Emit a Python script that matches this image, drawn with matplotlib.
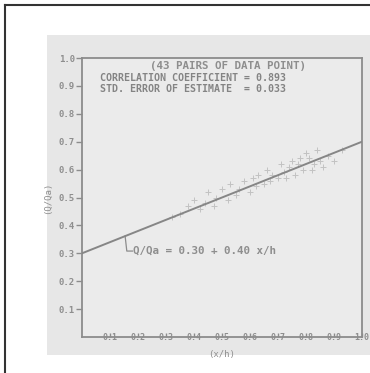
import matplotlib.pyplot as plt
import numpy as np
from matplotlib import patches, lines

# fitted line Q/Qa = 0.30 + 0.40 x/h
intercept = 0.30
slope = 0.40

x_pts = [0.32, 0.35, 0.38, 0.40, 0.42, 0.44, 0.45, 0.47, 0.48, 0.50,
         0.52, 0.53, 0.55, 0.56, 0.58, 0.60, 0.61, 0.62, 0.63, 0.65,
         0.66, 0.67, 0.68, 0.70, 0.71, 0.72, 0.73, 0.74, 0.75, 0.76,
         0.77, 0.78, 0.79, 0.80, 0.81, 0.82, 0.83, 0.84, 0.85, 0.86,
         0.88, 0.90, 0.93]
y_pts = [0.43, 0.44, 0.47, 0.49, 0.46, 0.48, 0.52, 0.47, 0.50, 0.53,
         0.49, 0.55, 0.51, 0.53, 0.56, 0.52, 0.57, 0.54, 0.58, 0.55,
         0.60, 0.56, 0.58, 0.57, 0.62, 0.59, 0.57, 0.61, 0.63, 0.58,
         0.62, 0.64, 0.60, 0.66, 0.64, 0.60, 0.62, 0.67, 0.63, 0.61,
         0.65, 0.63, 0.67]

ticks = [0.1, 0.2, 0.3, 0.4, 0.5, 0.6, 0.7, 0.8, 0.9, 1.0]
tick_labels = ["0.1", "0.2", "0.3", "0.4", "0.5", "0.6", "0.7", "0.8", "0.9", "1.0"]

title_lines = ["(43 PAIRS OF DATA POINT)",
               "CORRELATION COEFFICIENT = 0.893",
               "STD. ERROR OF ESTIMATE  = 0.033"]
eq_text = "Q/Qa = 0.30 + 0.40 x/h"

W, H = 370, 373
fig = plt.figure(figsize=(W / 100, H / 100), dpi=100)
fig.patch.set_facecolor("white")

# page frame (top and left edges show)
fig.add_artist(lines.Line2D([5 / W, 5 / W], [0, 1 - 5 / H], color="#333333", lw=1.5))
fig.add_artist(lines.Line2D([5 / W, 1], [1 - 5 / H, 1 - 5 / H], color="#333333", lw=1.5))

# grey scanned panel, behind the axes
fig.add_artist(patches.Rectangle((47 / W, 1 - 355 / H), 1, (355 - 35) / H,
                                 facecolor="#e7e7e7", edgecolor="none", zorder=-5))

ax = fig.add_axes([82 / W, 1 - 337 / H, 280 / W, 279 / H])
ax.set_facecolor("#ebebeb")
ax.set_xlim(0, 1.0)
ax.set_ylim(0, 1.0)
for s in ax.spines.values():
    s.set_color("#8c8c8c")
    s.set_linewidth(1.3)

grey = "#8e8e8e"
mono = "DejaVu Sans Mono"
ax.set_xticks(ticks)
ax.set_xticklabels(tick_labels, fontsize=6, color=grey, family=mono, fontweight="bold")
ax.set_yticks(ticks)
ax.set_yticklabels(tick_labels, fontsize=6.5, color=grey, family=mono, fontweight="bold")
ax.tick_params(axis="x", length=3, width=1, color="#8c8c8c", pad=-3, direction="in")
ax.tick_params(axis="y", length=4, width=1, color="#8c8c8c", pad=1)

# data points
ax.scatter(x_pts, y_pts, marker="+", s=16, color="#c2c2c2", linewidths=0.7, zorder=2)

# regression line
xl = np.array([0.0, 1.0])
ax.plot(xl, intercept + slope * xl, color="#868686", lw=1.4, zorder=3)

# leader and equation
ax.plot([0.154, 0.16, 0.18], [0.362, 0.308, 0.308], color="#8c8c8c", lw=0.9)
ax.text(0.182, 0.308, eq_text, fontsize=7.8, color=grey, family=mono,
        fontweight="bold", va="center", ha="left")

ax.text(0.52, 0.972, title_lines[0], fontsize=7.8, color=grey, family=mono,
        fontweight="bold", ha="center", va="center")
ax.text(0.064, 0.927, title_lines[1], fontsize=7.2, color="#848484",
        family=mono, fontweight="bold", ha="left", va="center")
ax.text(0.064, 0.888, title_lines[2], fontsize=7.2, color="#848484",
        family=mono, fontweight="bold", ha="left", va="center")

ax.set_xlabel("(x/h)", fontsize=6.5, color=grey, family=mono, labelpad=6)
ax.set_ylabel("(Q/Qa)", fontsize=6.5, color=grey, family=mono, labelpad=5)

fig.savefig("out.png", dpi=100)
